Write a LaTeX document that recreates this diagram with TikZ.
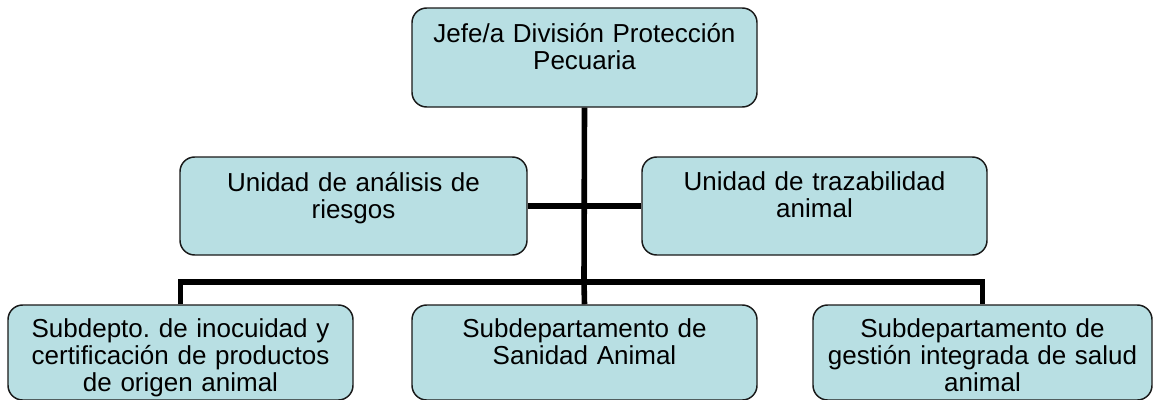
\documentclass[tikz,border=0pt]{standalone}
\usepackage{fontspec}
\setmainfont{Liberation Sans}
\usetikzlibrary{calc}
\frenchspacing
\definecolor{unitfill}{RGB}{184,223,227}
\tikzset{
	unit/.style={draw=black!90, line width=1.1pt, fill=unitfill, rounded corners=11pt, inner sep=0pt},
	unittext/.style={anchor=base, inner sep=0pt, align=center, font=\fontsize{19.5}{20.5}\selectfont},
	link/.style={line width=4.2pt, black}
}

\begin{document}
\begin{tikzpicture}[x=0.75pt, y=-0.75pt]
		%%%%% START %%%%%
		\useasboundingbox (0, 0) rectangle (1154, 400);
		
		\node[unit, minimum width=258.75pt, minimum height=74.25pt] (jefe) at (584.5, 57.5) {};
		\node[unit, minimum width=260.25pt, minimum height=73.5pt] (riesgos) at (353.5, 206) {};
		\node[unit, minimum width=258.75pt, minimum height=73.5pt] (trazab) at (814.5, 206) {};
		\node[unit, minimum width=258.75pt, minimum height=71.25pt] (inocuidad) at (180.5, 352.5) {};
		\node[unit, minimum width=258.75pt, minimum height=71.25pt] (sanidad) at (584.5, 352.5) {};
		\node[unit, minimum width=254.25pt, minimum height=71.25pt] (gestion) at (982.5, 352.5) {};
		
		\coordinate (bar) at (584, 282);
		
		\draw[link] (jefe.south) -- (bar);
		\draw[link] (riesgos.east) -- (trazab.west);
		\draw[link] (inocuidad.north) |- (bar) -| (gestion.north);
		\draw[link] (bar) -- (sanidad.north);
		
		\node[unittext, text width=250pt] (jefe-t) at ($(jefe.north)+(0, 35)$) {Jefe/a División Protección\\Pecuaria};
		\node[unittext, text width=250pt] (riesgos-t) at ($(riesgos.north)+(0, 35)$) {Unidad de análisis de\\riesgos};
		\node[unittext, text width=250pt] (trazab-t) at ($(trazab.north)+(0, 34)$) {Unidad de trazabilidad\\animal};
		\node[unittext, text width=250pt] (inocuidad-t) at ($(inocuidad.north)+(0, 33)$) {Subdepto. de inocuidad y\\certificación de productos\\de origen animal};
		\node[unittext, text width=250pt] (sanidad-t) at ($(sanidad.north)+(0, 33)$) {Subdepartamento de\\Sanidad Animal};
		\node[unittext, text width=250pt] (gestion-t) at ($(gestion.north)+(0, 33)$) {Subdepartamento de\\gestión integrada de salud\\animal};
		
		%%%%% END %%%%%
	\end{tikzpicture}
\end{document}
